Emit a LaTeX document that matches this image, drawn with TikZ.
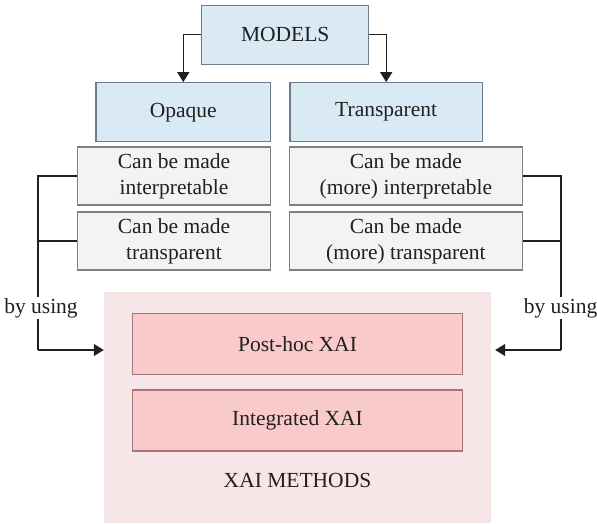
\documentclass[tikz,border=0pt]{standalone}
\usepackage{fontspec}
\setmainfont{Liberation Serif}
\usetikzlibrary{arrows.meta,positioning,calc}
\definecolor{cModel}{HTML}{D9EAF4}
\definecolor{cModelLine}{HTML}{6E7B8B}
\definecolor{cProp}{HTML}{F3F3F3}
\definecolor{cPropLine}{HTML}{7F7F7F}
\definecolor{cBack}{HTML}{F6E6E7}
\definecolor{cXai}{HTML}{F9CACA}
\definecolor{cXaiLine}{HTML}{A6747A}
\definecolor{cInk}{HTML}{231F20}
\tikzset{
  link/.style={line width=1.3pt,draw=cInk},
  flow/.style={link,-{Triangle[length=10pt,width=12pt]}},
  modelbox/.style={draw=cModelLine,fill=cModel,line width=1.2pt,inner sep=0pt,
                   minimum height=59pt,font=\fontsize{21.5}{26}\selectfont,text=cInk},
  propbox/.style={draw=cPropLine,fill=cProp,line width=1.2pt,inner sep=0pt,align=center,
                  minimum height=58pt,font=\fontsize{21.5}{26}\selectfont,text=cInk},
  xaibox/.style={draw=cXaiLine,fill=cXai,line width=1.2pt,inner sep=0pt,
                 minimum width=330pt,minimum height=61pt,font=\fontsize{21.5}{26}\selectfont,text=cInk},
  usinglabel/.style={fill=white,inner sep=1.5pt,font=\fontsize{21.5}{26}\selectfont,text=cInk}
}
\begin{document}
\begin{tikzpicture}[x=1pt,y=-1pt]
  \useasboundingbox[fill=white] (0,0) rectangle (597,523);

  % xai methods area
  \node[fill=cBack,inner sep=0pt,minimum width=387pt,minimum height=231pt] (methods) at (297.5,407.5) {};
  \node[xaibox] (posthoc) at (297.5,343.7) {Post-hoc XAI};
  \node[xaibox] (integ) at (297.5,420.5) {Integrated XAI};
  \node[font=\fontsize{21.5}{26}\selectfont,text=cInk] (mlabel) at (297.5,480) {XAI METHODS};

  % models
  \node[modelbox,minimum width=166.7pt] (models) at (285.2,34.8) {MODELS};
  \node[modelbox,minimum width=174.8pt] (opaque) at (183.3,112.2) {Opaque};
  \node[modelbox,minimum width=192.3pt] (transp) at (386.2,112.2) {Transparent};
  \draw[flow] (models.west) -| (opaque.north);
  \draw[flow] (models.east) -| (transp.north);

  \node[propbox,minimum width=193.4pt] (intL) at (174,176) {Can be made\\interpretable};
  \node[propbox,minimum width=193.4pt] (traL) at (174,241) {Can be made\\transparent};
  \node[propbox,minimum width=233pt] (intR) at (405.9,176) {Can be made\\(more) interpretable};
  \node[propbox,minimum width=233pt] (traR) at (405.9,241) {Can be made\\(more) transparent};

  % by using
  \coordinate (lcol) at (38,350);
  \coordinate (rcol) at (561,350);
  \draw[link] (intL.west) -| (lcol);
  \draw[link] (traL.west) -- (traL.west -| lcol);
  \draw[flow] (lcol) -- (lcol -| methods.west);
  \draw[link] (intR.east) -| (rcol);
  \draw[link] (traR.east) -- (traR.east -| rcol);
  \draw[flow,shorten >=4pt] (rcol) -- (rcol -| methods.east);
  \node[usinglabel] (lusing) at (41,308) {by using};
  \node[usinglabel,anchor=east] (rusing) at (599,308) {by using};
\end{tikzpicture}
\end{document}
